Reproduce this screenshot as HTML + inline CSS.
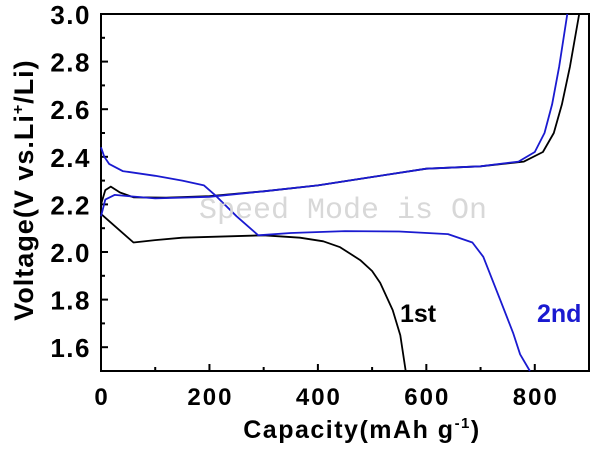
<!DOCTYPE html>
<html><head><meta charset="utf-8"><style>
body{margin:0;background:#fff;}
svg text{font-family:"Liberation Sans",Arial,sans-serif;font-weight:bold;}
</style></head><body>
<svg width="600" height="447">
<g id="axes"></g>
<g id="series"></g>
<text x="199" y="218" style="font-family:'Liberation Mono',monospace;font-weight:normal;fill:#d8d8d8;font-size:30px">Speed Mode is On</text>
<text x="400" y="322" font-size="25" fill="#000">1st</text>
<text x="537" y="322" font-size="25" fill="#1a1ad0">2nd</text>
<text x="362" y="438" font-size="25" letter-spacing="1.5" text-anchor="middle">Capacity(mAh g<tspan dy="-10" font-size="15">-1</tspan><tspan dy="10">)</tspan></text>
<text transform="translate(33,190) rotate(-90)" font-size="27" letter-spacing="1" text-anchor="middle">Voltage(V vs.Li<tspan dy="-10" font-size="16">+</tspan><tspan dy="10">/Li)</tspan></text>
</svg>
<script>
const xTicks=[0,200,400,600,800];
const yTicks=[1.6,1.8,2.0,2.2,2.4,2.6,2.8,3.0];
const dis1=[[0,2.16],[20,2.12],[60,2.04],[100,2.05],[150,2.06],[300,2.07],[367,2.06],[410,2.045],[441,2.02],[478,1.966],[500,1.92],[515,1.87],[538,1.756],[552,1.65],[562,1.5]];
const chg1=[[0,2.2],[8,2.26],[18,2.275],[35,2.25],[60,2.23],[120,2.228],[200,2.235],[300,2.255],[400,2.28],[500,2.315],[600,2.35],[700,2.36],[780,2.38],[815,2.42],[835,2.5],[850,2.62],[865,2.78],[882,3.0]];
const dis2=[[0,2.44],[6,2.4],[15,2.37],[40,2.34],[100,2.32],[150,2.3],[190,2.28],[210,2.24],[250,2.15],[290,2.07],[350,2.08],[450,2.088],[550,2.086],[640,2.075],[685,2.04],[705,1.98],[736,1.8],[760,1.66],[773,1.57],[791,1.5]];
const chg2=[[0,2.15],[8,2.22],[25,2.24],[50,2.235],[100,2.225],[200,2.232],[300,2.255],[400,2.28],[500,2.315],[600,2.35],[700,2.36],[770,2.38],[800,2.42],[818,2.5],[832,2.62],[845,2.78],[860,3.0]];
const X0=101,X1=589,Y0=371,Y1=14;
const sx=v=>X0+(v-0)/(900-0)*(X1-X0);
const sy=v=>Y0-(v-1.5)/(3.0-1.5)*(Y0-Y1);
const NS="http://www.w3.org/2000/svg";
const ax=document.getElementById('axes'),se=document.getElementById('series');
function mk(tag,attrs,parent){const e=document.createElementNS(NS,tag);for(const k in attrs)e.setAttribute(k,attrs[k]);parent.appendChild(e);return e;}
const frame=mk('rect',{x:X0,y:Y1,width:X1-X0,height:Y0-Y1,fill:'none',stroke:'#000','stroke-width':2},ax);


for(let v=0;v<=900;v+=100){const t=mk('line',{x1:sx(v),x2:sx(v),y1:Y0,y2:Y0-(v%200==0?7:4),stroke:'#000','stroke-width':2},ax);

}
for(let i=0;i<=15;i++){const v=1.5+i*0.1;const t=mk('line',{x1:X0,x2:X0+(i%2==1?7:4),y1:sy(v),y2:sy(v),stroke:'#000','stroke-width':2},ax);

}
xTicks.forEach(v=>{const t=mk('text',{x:sx(v)+1,y:405,'font-size':24,'letter-spacing':2,'text-anchor':'middle'},ax);t.textContent=v;

});
yTicks.forEach(v=>{const t=mk('text',{x:91,y:sy(v)+10,'font-size':26,'letter-spacing':1.5,'text-anchor':'end'},ax);t.textContent=v.toFixed(1);

});
[[dis1,'#000','discharge-1st'],[chg1,'#000','charge-1st'],[dis2,'#1a1ad0','discharge-2nd'],[chg2,'#1a1ad0','charge-2nd']].forEach(([d,c,n])=>{
const p=mk('path',{d:d.map((q,i)=>(i?'L':'M')+sx(q[0]).toFixed(1)+','+sy(q[1]).toFixed(1)).join(''),fill:'none',stroke:c,'stroke-width':1.8,'stroke-linejoin':'round'},se);

});
</script>
</body></html>
